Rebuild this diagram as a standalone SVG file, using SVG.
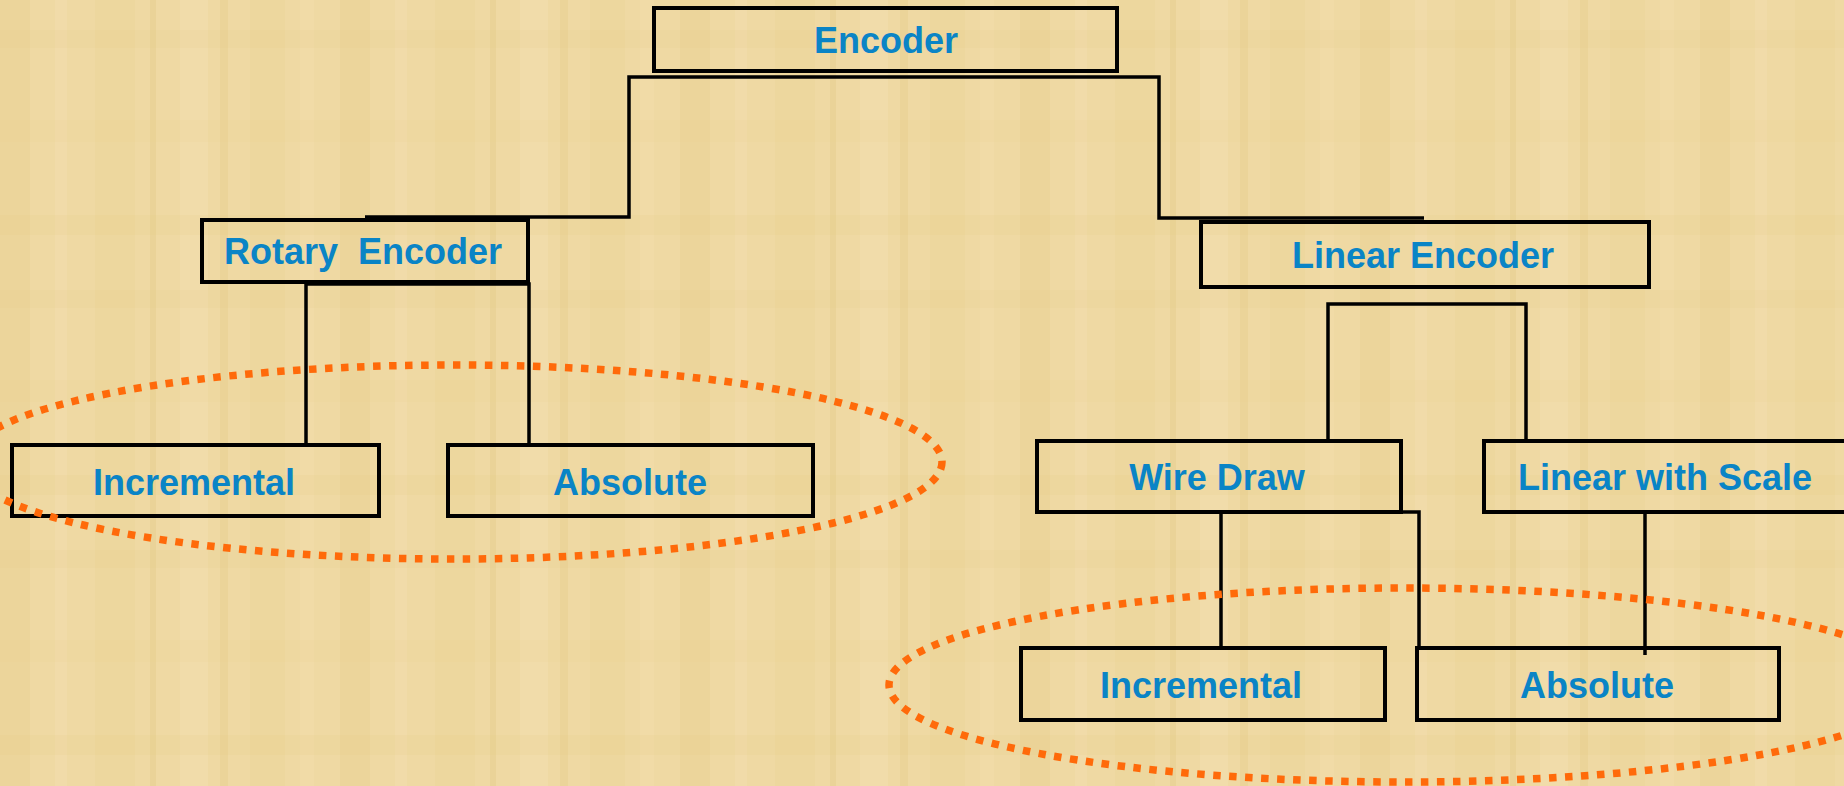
<svg xmlns="http://www.w3.org/2000/svg" width="1844" height="786" viewBox="0 0 1844 786">
  <defs>
    <pattern id="papyrus" x="0" y="0" width="340" height="260" patternUnits="userSpaceOnUse">
      <rect width="340" height="260" fill="#EFD9A3"/>
      <rect x="0" y="0" width="30" height="260" fill="#E2C47F" opacity="0.2"/>
      <rect x="55" y="0" width="12" height="260" fill="#F6E4B6" opacity="0.3"/>
      <rect x="95" y="0" width="40" height="260" fill="#E6CB8A" opacity="0.2"/>
      <rect x="150" y="0" width="6" height="260" fill="#D9B970" opacity="0.2"/>
      <rect x="180" y="0" width="28" height="260" fill="#F7E6BA" opacity="0.3"/>
      <rect x="220" y="0" width="8" height="260" fill="#DDBD75" opacity="0.2"/>
      <rect x="250" y="0" width="35" height="260" fill="#E8CD8C" opacity="0.2"/>
      <rect x="300" y="0" width="14" height="260" fill="#F5E2B2" opacity="0.3"/>
      <rect x="0" y="30" width="340" height="18" fill="#E4C783" opacity="0.15"/>
      <rect x="0" y="120" width="340" height="22" fill="#E8CC8A" opacity="0.15"/>
      <rect x="0" y="215" width="340" height="20" fill="#E3C57F" opacity="0.15"/>
    </pattern>
    <style>
      .box { fill: none; stroke: #000; stroke-width: 4; }
      .lbl { font-family: "Liberation Sans", Arial, sans-serif; font-weight: bold; font-size: 36px; fill: #0A84C6; text-anchor: middle; }
      .conn { fill: none; stroke: #000; stroke-width: 3.5; }
      .oval { fill: none; stroke: #FF6A0A; stroke-width: 7.5; stroke-dasharray: 7.5 8.5; }
    </style>
  </defs>

  <rect width="1844" height="786" fill="url(#papyrus)"/>

  <g id="connectors">
    <path class="conn" d="M365,217 H629 V77 H1159 V218 H1424"/>
    <path class="conn" d="M306,444 V284 H529 V444"/>
    <path class="conn" d="M1328,439 V304 H1526 V439"/>
    <path class="conn" d="M1221,648 V512 H1419 V648"/>
    <path class="conn" d="M1645,512 V655"/>
  </g>

  <g id="node-encoder">
    <rect class="box" x="654" y="8" width="463" height="63"/>
    <text class="lbl" x="886" y="53">Encoder</text>
  </g>
  <g id="node-rotary">
    <rect class="box" x="202" y="220" width="326" height="62"/>
    <text class="lbl" x="363" y="264" xml:space="preserve">Rotary  Encoder</text>
  </g>
  <g id="node-linear">
    <rect class="box" x="1201" y="222" width="448" height="65"/>
    <text class="lbl" x="1423" y="268">Linear Encoder</text>
  </g>
  <g id="node-rot-incremental">
    <rect class="box" x="12" y="445" width="367" height="71"/>
    <text class="lbl" x="194" y="495">Incremental</text>
  </g>
  <g id="node-rot-absolute">
    <rect class="box" x="448" y="445" width="365" height="71"/>
    <text class="lbl" x="630" y="495">Absolute</text>
  </g>
  <g id="node-wire-draw">
    <rect class="box" x="1037" y="441" width="364" height="71"/>
    <text class="lbl" x="1217" y="490">Wire Draw</text>
  </g>
  <g id="node-linear-scale">
    <rect class="box" x="1484" y="441" width="370" height="71"/>
    <text class="lbl" x="1665" y="490">Linear with Scale</text>
  </g>
  <g id="node-lin-incremental">
    <rect class="box" x="1021" y="648" width="364" height="72"/>
    <text class="lbl" x="1201" y="698">Incremental</text>
  </g>
  <g id="node-lin-absolute">
    <rect class="box" x="1417" y="648" width="362" height="72"/>
    <text class="lbl" x="1597" y="698">Absolute</text>
  </g>

  <g id="highlights">
    <ellipse class="oval" cx="454" cy="462" rx="488" ry="97"/>
    <ellipse class="oval" cx="1403" cy="685" rx="514" ry="97"/>
  </g>
</svg>
